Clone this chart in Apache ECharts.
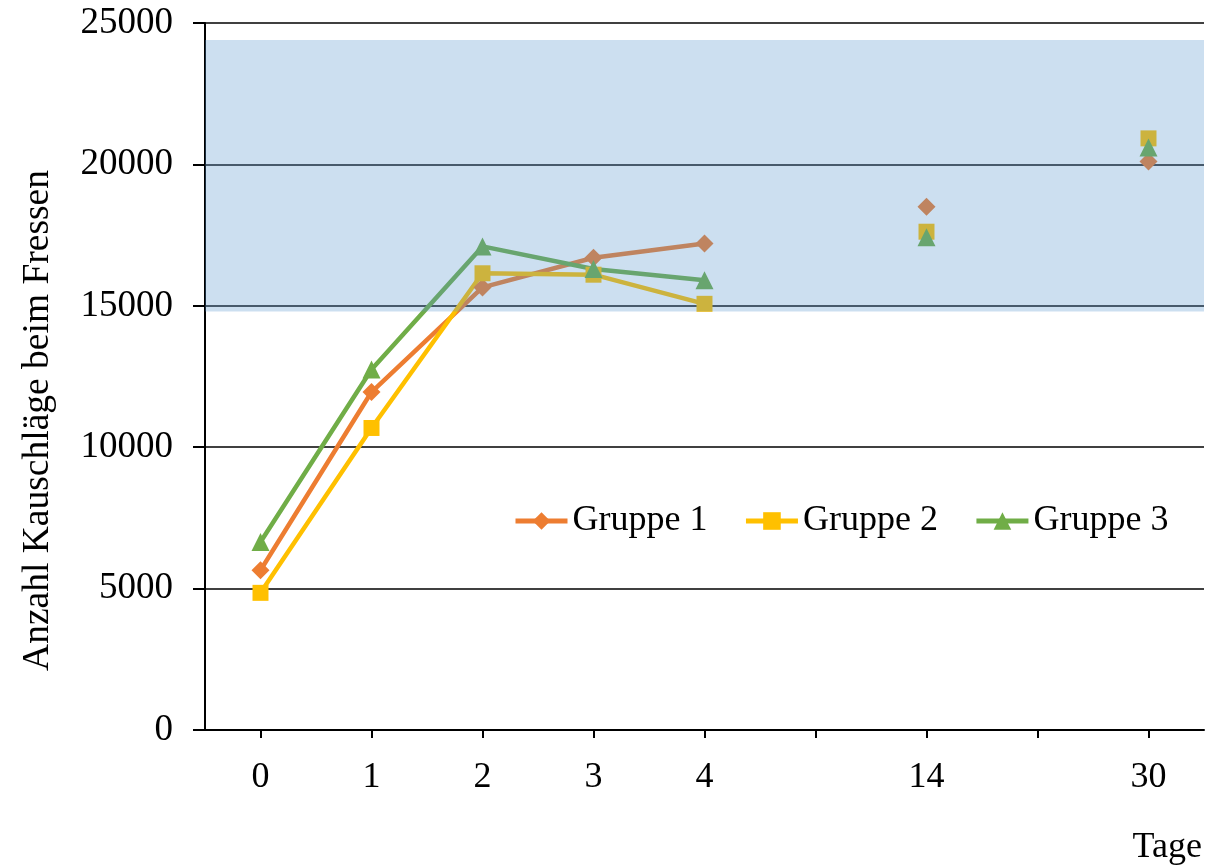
<!DOCTYPE html>
<html>
<head>
<meta charset="utf-8">
<script src="https://cdn.jsdelivr.net/npm/echarts@6/dist/echarts.min.js"></script>
<style>
  html, body { margin: 0; padding: 0; background: #fff; }
  #chart { width: 1206px; height: 867px; }
</style>
</head>
<body>
<div id="chart"></div>
<script>
// Days after start; blank slots keep the gap before 14 and 30
const days = ['0', '1', '2', '3', '4', '', '14', '', '30'];
const gruppe1 = [5650, 11950, 15650, 16700, 17200, null, 18500, null, 20100];
const gruppe2 = [4850, 10680, 16150, 16100, 15070, null, 17620, null, 20920];
const gruppe3 = [6650, 12750, 17100, 16300, 15900, null, 17420, null, 20600];
// Shaded reference range
const bandRange = [14800, 24400];
const yTicks = { min: 0, max: 25000, interval: 5000 };

const font = 'Liberation Serif, Times New Roman, serif';
const chart = echarts.init(document.getElementById('chart'));

function lineSeries(name, data, color, symbol, size) {
  return {
    name: name,
    type: 'line',
    data: data,
    z: 2,
    connectNulls: false,
    symbol: symbol,
    symbolSize: size,
    lineStyle: { color: color, width: 4.5 },
    itemStyle: { color: color },
    emphasis: { disabled: true },
    animation: false
  };
}

chart.setOption({
  animation: false,
  grid: { left: 205, top: 23, right: 2, bottom: 137 },
  legend: {
    left: 508,
    top: 498,
    itemWidth: 52,
    itemHeight: 22,
    itemGap: 36,
    lineStyle: { width: 5 },
    textStyle: { fontFamily: font, fontSize: 36, color: '#000' },
    data: ['Gruppe 1', 'Gruppe 2', 'Gruppe 3']
  },
  xAxis: {
    type: 'category',
    data: days,
    boundaryGap: true,
    axisLine: { lineStyle: { color: '#000', width: 2 } },
    axisTick: { show: true, alignWithLabel: true, interval: 0, length: 8, lineStyle: { color: '#000', width: 2 } },
    axisLabel: { interval: 0, margin: 30, fontFamily: font, fontSize: 36, color: '#000' },
    splitLine: { show: false }
  },
  yAxis: {
    type: 'value',
    min: yTicks.min,
    max: yTicks.max,
    interval: yTicks.interval,
    axisLine: { show: true, lineStyle: { color: '#000', width: 2 } },
    axisTick: { show: true, length: 12, lineStyle: { color: '#000', width: 2 } },
    axisLabel: { margin: 32, fontFamily: font, fontSize: 37, color: '#000', formatter: (v) => String(v) },
    splitLine: { show: true, lineStyle: { color: '#000', width: 1.5 } }
  },
  series: [
    lineSeries('Gruppe 1', gruppe1, '#ED7D31', 'diamond', 18),
    lineSeries('Gruppe 2', gruppe2, '#FFC000', 'rect', 16),
    lineSeries('Gruppe 3', gruppe3, '#70AD47', 'triangle', 18),
    {
      name: 'band',
      type: 'line',
      data: [],
      silent: true,
      markArea: {
        silent: true,
        z: 5,
        itemStyle: { color: 'rgba(85,150,205,0.3)' },
        data: [[{ yAxis: bandRange[0] }, { yAxis: bandRange[1] }]]
      }
    }
  ],
  graphic: [
    {
      type: 'text',
      left: 19,
      top: 170,
      rotation: Math.PI / 2,
      originX: 0, originY: 0,
      style: {
        text: 'Anzahl Kauschläge beim Fressen',
        font: '37.5px ' + font,
        fill: '#000'
      }
    },
    {
      type: 'text',
      right: 4,
      top: 830,
      style: { text: 'Tage', font: '36px ' + font, fill: '#000' }
    }
  ]
});
</script>
</body>
</html>
